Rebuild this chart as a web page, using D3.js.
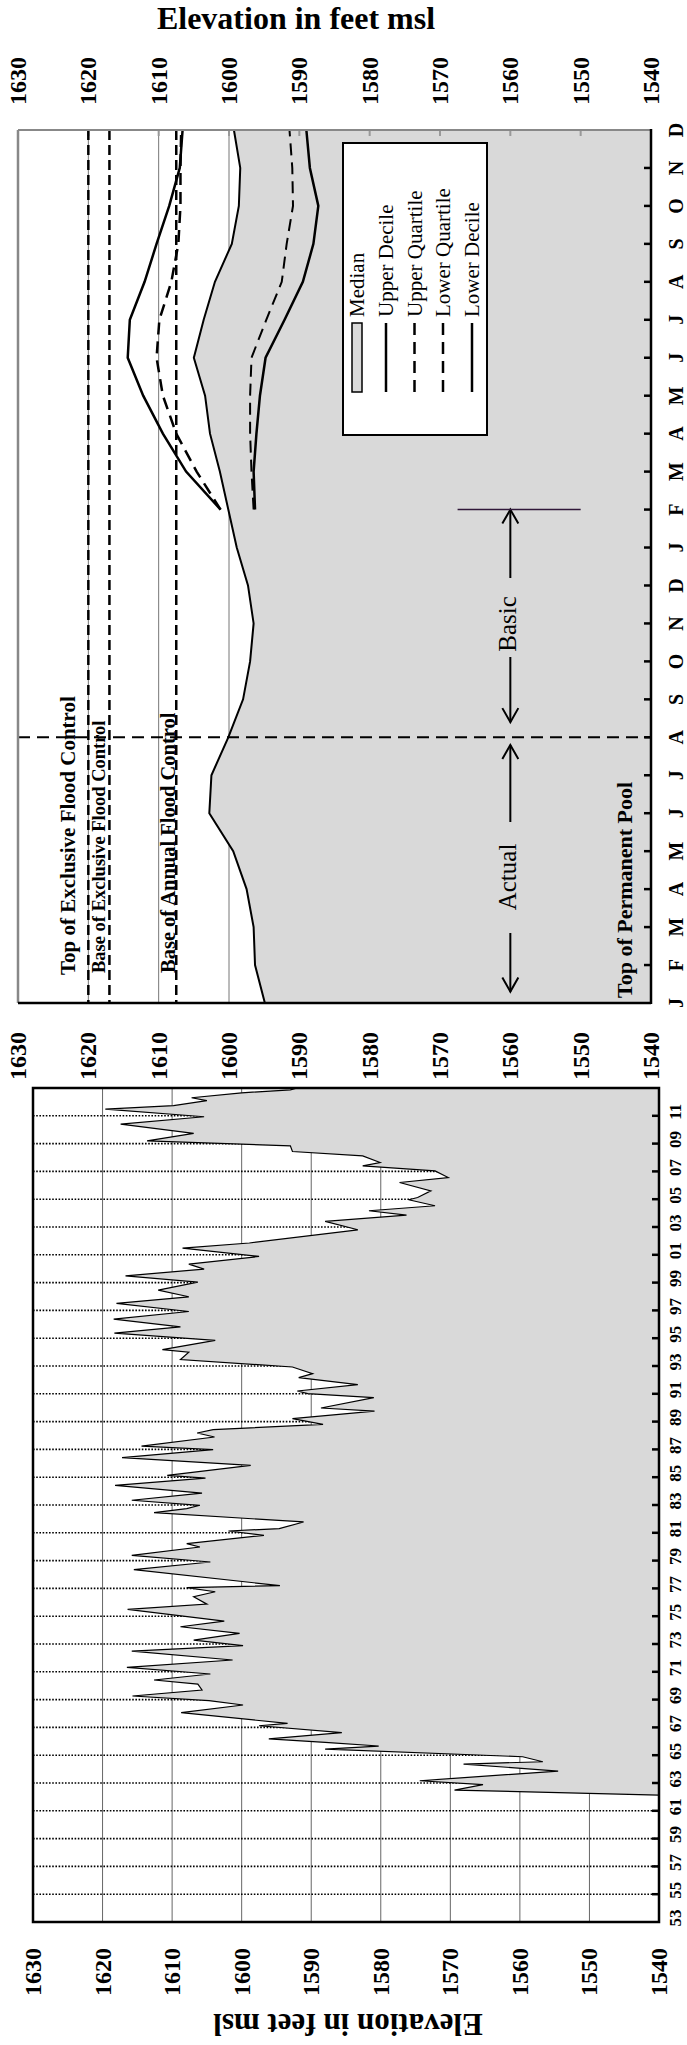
<!DOCTYPE html>
<html><head><meta charset="utf-8">
<script src="https://cdn.jsdelivr.net/npm/d3@7"></script>
<style>
body{margin:0;background:#fff}
svg{display:block}
text{font-family:"Liberation Serif","Times New Roman",serif}
</style>
</head><body>
<svg id="c" width="687" height="2045"></svg>
<script>
// ---------------- DATA ----------------
const monthLabels = ["J","F","M","A","M","J","J","A","S","O","N","D","J","F","M","A","M","J","J","A","S","O","N","D"];
const elevTicks = [1630,1620,1610,1600,1590,1580,1570,1560,1550,1540];
// monthly median (Actual Jan-Aug, Basic Aug-Jan, then statistics period Feb-Dec)
const medianElev = [1594.9,1596.3,1596.5,1597.5,1599.4,1602.8,1602.5,1600.1,1598.0,1597.0,1596.5,1597.3,
                    1598.9,1600.1,1601.3,1602.7,1603.4,1605.0,1603.6,1602.0,1599.6,1598.6,1598.4,1599.3];
const pctStartMonth = 13; // F of second year
const upperDecile   = [1601.2,1606.1,1609.4,1612.2,1614.4,1614.1,1612.0,1610.3,1608.5,1607.0,1606.6];
const upperQuartile = [1601.2,1604.6,1607.5,1609.4,1610.3,1609.9,1608.2,1607.2,1606.9,1606.9,1606.8];
const lowerQuartile = [1596.5,1596.8,1597.0,1597.0,1596.8,1594.7,1592.5,1591.8,1590.9,1591.0,1591.4];
const lowerDecile   = [1596.3,1596.5,1596.1,1595.6,1594.8,1592.1,1589.5,1588.0,1587.3,1588.5,1589.0];
const floodLevels = [1620, 1617, 1607.5];
const floodNames = ["Top of Exclusive Flood Control","Base of Exclusive Flood Control","Base of Annual Flood Control"];
const legendNames = ["Median","Upper Decile","Upper Quartile","Lower Quartile","Lower Decile"];
const yearLabels = ["53","55","57","59","61","63","65","67","69","71","73","75","77","79","81","83","85","87","89","91","93","95","97","99","01","03","05","07","09","11"];
const yearValues = [1953,1955,1957,1959,1961,1963,1965,1967,1969,1971,1973,1975,1977,1979,1981,1983,1985,1987,1989,1991,1993,1995,1997,1999,2001,2003,2005,2007,2009,2011];
const seriesYears = [1962.13,1962.49,1962.88,1963.16,1963.86,1964.36,1964.53,1964.89,1965.44,1965.66,1965.92,1966.18,1966.62,1967.12,1967.29,
 1968.06,1968.61,1968.92,1969.26,1969.69,1970.12,1970.41,1970.84,1971.32,1971.85,1972.49,1972.88,1973.28,1973.76,1974.24,1974.65,
 1975.49,1975.87,1976.40,1976.76,1977.05,1977.2,1978.35,1978.90,1979.38,1979.98,1980.22,1980.82,1981.13,1981.30,1981.78,1982.45,1982.74,
 1982.98,1983.34,1983.86,1984.41,1984.94,1985.13,1985.85,1986.41,1986.98,1987.24,1987.89,1988.18,1988.42,1988.80,1989.21,1989.76,
 1989.98,1990.72,1991.01,1991.2,1991.66,1992.16,1992.45,1992.93,1993.46,1994.0,1994.18,1994.85,1995.37,1995.82,1996.37,1996.92,
 1997.50,1997.98,1998.46,1999.04,1999.49,1999.97,2000.33,2000.88,2001.48,2001.85,2002.80,2003.40,2003.85,2004.17,2004.53,2004.96,
 2005.12,2005.60,2006.20,2006.56,2007.04,2007.40,2007.64,2008.12,2008.43,2008.84,2009.20,2009.73,2010.40,2010.93,2011.48,2011.73,
 2012.09,2012.3,2012.65,2012.87,2013.0];
const seriesElev = [1540,1569.4,1565.3,1574.4,1554.5,1568.1,1556.7,1559.6,1588.0,1580.3,1588.0,1596.1,1585.6,1597.5,1593.4,
 1608.7,1599.8,1604.7,1615.7,1605.7,1606.3,1612.6,1604.5,1616.5,1601.3,1615.8,1599.8,1606.9,1600.3,1608.8,1602.5,
 1616.4,1605.0,1606.9,1603.8,1607.9,1594.5,1615.5,1604.5,1615.8,1606.0,1607.9,1596.8,1601.9,1594.6,1591.1,1612.6,1607.9,
 1606.0,1615.8,1605.7,1618.2,1605.2,1610.7,1598.7,1617.2,1604.1,1614.4,1603.9,1606.4,1604.1,1588.3,1592.7,1580.9,
 1588.6,1581.0,1590.5,1592.0,1583.3,1591.8,1589.8,1592.7,1608.8,1607.6,1611.4,1603.8,1618.3,1608.8,1618.4,1607.6,
 1618.0,1607.6,1612.0,1606.3,1616.7,1605.4,1607.6,1597.5,1608.5,1598.9,1583.3,1588.0,1576.3,1581.7,1572.2,1576.0,
 1574.7,1572.8,1577.3,1570.3,1572.2,1582.6,1580.1,1582.6,1592.7,1593.0,1613.6,1606.9,1617.4,1605.4,1619.6,1609.8,
 1605.0,1607.2,1600.0,1593.0,1592.0];

// ---------------- DRAW ----------------
const svg = d3.select("#c");
const FILL = "#d9d9d9";
function rtext(g, x, y, s, size, weight, anchor, rot){
  return g.append("text").attr("transform",`translate(${x},${y}) rotate(${rot===undefined?-90:rot})`)
    .attr("text-anchor",anchor||"middle").attr("dominant-baseline","central")
    .attr("font-size",size).attr("font-weight",weight||"normal").text(s);
}

// Title
svg.append("text").attr("x",296).attr("y",18).attr("text-anchor","middle").attr("dominant-baseline","central")
  .attr("font-size",32).attr("font-weight","bold").text("Elevation  in feet msl");

// ===== Upper panel =====
const U = {l:18, r:651, t:130, b:1003};
const xU = d3.scaleLinear().domain([1630,1540]).range([U.l,U.r]);
const yU = d3.scaleLinear().domain([0,23]).range([U.b,U.t]);
const gU = svg.append("g");

// gridlines
gU.selectAll("line.grid").data(elevTicks.slice(1,-1)).join("line")
  .attr("x1",d=>xU(d)).attr("x2",d=>xU(d)).attr("y1",U.t).attr("y2",U.b)
  .attr("stroke","#777").attr("stroke-width",1);

// median fill
const medPts = medianElev.map((v,i)=>({i,v}));
gU.append("path").datum(medPts)
  .attr("d", d3.area().y(d=>yU(d.i)).x0(xU(1540)).x1(d=>xU(d.v)))
  .attr("fill",FILL);
gU.append("path").datum(medPts)
  .attr("d", d3.line().y(d=>yU(d.i)).x(d=>xU(d.v)))
  .attr("fill","none").attr("stroke","#000").attr("stroke-width",2);

// top ticks
gU.selectAll("line.tt").data(elevTicks.slice(1,-1)).join("line")
  .attr("x1",d=>xU(d)).attr("x2",d=>xU(d)).attr("y1",U.t).attr("y2",U.t+6)
  .attr("stroke","#999").attr("stroke-width",2);

// flood control dashed lines
gU.selectAll("line.fl").data(floodLevels).join("line")
  .attr("x1",d=>xU(d)).attr("x2",d=>xU(d)).attr("y1",U.t).attr("y2",U.b)
  .attr("stroke","#000").attr("stroke-width",2.5).attr("stroke-dasharray","10,5");

// flood labels
const floodLab = [{dx:-13,size:21,y:975},{dx:-4,size:18.5,y:973},{dx:-1,size:20.5,y:973}];
floodNames.forEach((s,k)=>{
  gU.append("text").attr("transform",`translate(${xU(floodLevels[k])+floodLab[k].dx},${floodLab[k].y}) rotate(-90)`)
    .attr("text-anchor","start").attr("font-size",floodLab[k].size).attr("font-weight","bold").text(s);
});
gU.append("text").attr("transform",`translate(${xU(1540)-19},998) rotate(-90)`)
  .attr("text-anchor","start").attr("font-size",22).attr("font-weight","bold").text("Top of Permanent Pool");

// Actual / Basic separator (August)
gU.append("line").attr("x1",U.l).attr("x2",U.r).attr("y1",yU(7)).attr("y2",yU(7))
  .attr("stroke","#000").attr("stroke-width",2).attr("stroke-dasharray","12,7");

// percentile lines
const pctLine = d3.line().y((d,k)=>yU(pctStartMonth+k)).x(d=>xU(d));
const pctSeries = [
  {data:upperDecile, dash:null, w:2.5},
  {data:upperQuartile, dash:"12,7", w:2.5},
  {data:lowerQuartile, dash:"12,7", w:2},
  {data:lowerDecile, dash:null, w:2.5}
];
pctSeries.forEach(s=>{
  gU.append("path").datum(s.data).attr("d",pctLine).attr("fill","none")
    .attr("stroke","#000").attr("stroke-width",s.w).attr("stroke-dasharray",s.dash);
});

// arrows
const arrowX = xU(1560);
function arrowHead(y, dir){ // dir -1 points up (smaller y), +1 points down
  gU.append("path").attr("d",`M${arrowX-8},${y-dir*14} L${arrowX},${y} L${arrowX+8},${y-dir*14}`)
    .attr("fill","none").attr("stroke","#000").attr("stroke-width",2);
}
function seg(y1,y2){ gU.append("line").attr("x1",arrowX).attr("x2",arrowX).attr("y1",y1).attr("y2",y2).attr("stroke","#000").attr("stroke-width",2); }
// Actual
seg(yU(0.3), 933); seg(822, yU(6.8)); arrowHead(yU(0.3),1); arrowHead(yU(6.8),-1);
rtext(gU, arrowX-3, 877, "Actual", 25);
// Basic
seg(yU(7.4), 657); seg(578, yU(13)); arrowHead(yU(7.4),1); arrowHead(yU(13),-1);
rtext(gU, arrowX-3, 624, "Basic", 25);
gU.append("line").attr("x1",xU(1567.5)).attr("x2",xU(1550)).attr("y1",yU(13)).attr("y2",yU(13))
  .attr("stroke","#30183a").attr("stroke-width",1.5);

// legend
const lg = gU.append("g");
lg.append("rect").attr("x",343).attr("y",143).attr("width",144).attr("height",292)
  .attr("fill","#fff").attr("stroke","#000").attr("stroke-width",2);
const legX = [357,386,414.5,443,472];
legendNames.forEach((s,k)=>{
  if(k===0){
    lg.append("rect").attr("x",legX[k]-5).attr("y",323).attr("width",10).attr("height",69)
      .attr("fill",FILL).attr("stroke","#000").attr("stroke-width",1.5);
  } else {
    lg.append("line").attr("x1",legX[k]).attr("x2",legX[k]).attr("y1",323).attr("y2",392)
      .attr("stroke","#000").attr("stroke-width",2.5).attr("stroke-dasharray",(k===2||k===3)?"12,7":null);
  }
  lg.append("text").attr("transform",`translate(${legX[k]+7},317) rotate(-90)`)
    .attr("text-anchor","start").attr("font-size",21).text(s);
});

// frame
gU.append("line").attr("x1",U.l).attr("x2",U.r).attr("y1",U.t).attr("y2",U.t).attr("stroke","#888").attr("stroke-width",2);
gU.append("line").attr("x1",U.l).attr("x2",U.l).attr("y1",U.t).attr("y2",U.b).attr("stroke","#888").attr("stroke-width",2.5);
gU.append("line").attr("x1",U.r).attr("x2",U.r).attr("y1",U.t-1).attr("y2",U.b+1).attr("stroke","#000").attr("stroke-width",2.5);
gU.append("line").attr("x1",U.l).attr("x2",U.r).attr("y1",U.b).attr("y2",U.b).attr("stroke","#000").attr("stroke-width",2.5);
// month ticks + labels
gU.selectAll("line.mt").data(d3.range(1,23)).join("line")
  .attr("x1",U.r).attr("x2",U.r-7).attr("y1",d=>yU(d)).attr("y2",d=>yU(d))
  .attr("stroke","#000").attr("stroke-width",2.5);
monthLabels.forEach((m,i)=>rtext(gU, 676, yU(i), m, 20, "bold"));
// elevation tick labels top and bottom
elevTicks.forEach(v=>{
  rtext(gU, xU(v), 81, v, 24, "bold");
  rtext(gU, xU(v), 1056, v, 24, "bold");
});

// ===== Lower panel =====
const L = {l:33, r:659, t:1088, b:1922};
const xL = d3.scaleLinear().domain([1630,1540]).range([L.l,L.r]);
const yL = d3.scaleLinear().domain([1953,2013]).range([L.b,L.t]);
const gL = svg.append("g");
gL.selectAll("line.g").data(elevTicks.slice(1,-1)).join("line")
  .attr("x1",d=>xL(d)).attr("x2",d=>xL(d)).attr("y1",L.t).attr("y2",L.b)
  .attr("stroke","#666").attr("stroke-width",1);
gL.selectAll("line.d").data(yearValues.slice(1)).join("line")
  .attr("x1",L.l).attr("x2",L.r).attr("y1",d=>yL(d)).attr("y2",d=>yL(d))
  .attr("stroke","#000").attr("stroke-width",1.6).attr("stroke-dasharray","1.6,1.6");
const ser = seriesYears.map((t,k)=>({t,v:seriesElev[k]}));
gL.append("path").datum(ser).attr("d",d3.area().y(d=>yL(d.t)).x0(xL(1540)).x1(d=>xL(d.v)))
  .attr("fill",FILL);
gL.append("path").datum(ser).attr("d",d3.line().y(d=>yL(d.t)).x(d=>xL(d.v)))
  .attr("fill","none").attr("stroke","#000").attr("stroke-width",1.2);
gL.append("rect").attr("x",L.l).attr("y",L.t).attr("width",L.r-L.l).attr("height",L.b-L.t)
  .attr("fill","none").attr("stroke","#000").attr("stroke-width",2.5);
gL.selectAll("line.yt").data(yearValues.slice(1)).join("line")
  .attr("x1",L.r).attr("x2",L.r-7).attr("y1",d=>yL(d)).attr("y2",d=>yL(d))
  .attr("stroke","#000").attr("stroke-width",2.5);
yearLabels.forEach((s,k)=>rtext(gL, 675, yL(yearValues[k]) - 4, s, 17, "bold"));
elevTicks.forEach(v=>rtext(gL, xL(v), 1972, v, 24, "bold"));
svg.append("text").attr("transform","translate(348,2024) rotate(180)").attr("text-anchor","middle")
  .attr("dominant-baseline","central").attr("font-size",31).attr("font-weight","bold").text("Elevation in feet msl");
</script>
</body></html>
